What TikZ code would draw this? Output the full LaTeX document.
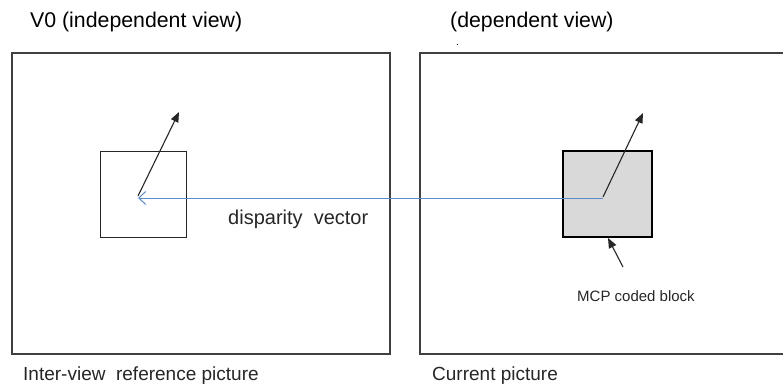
\documentclass[tikz,border=0pt]{standalone}
\usepackage{fontspec}
\setmainfont{Liberation Sans}
\usetikzlibrary{arrows.meta}
\definecolor{framegray}{HTML}{404040}
\definecolor{dvblue}{HTML}{5B8BC9}
\definecolor{blockgray}{HTML}{D9D9D9}
\begin{document}
\begin{tikzpicture}[x=1pt,y=-1pt,
  frame/.style={draw=framegray,line width=1.4pt,inner sep=0pt,minimum width=#1,minimum height=301pt},
  title/.style={anchor=base west,inner sep=0pt,font=\fontsize{21.3}{24}\selectfont},
  label/.style={anchor=base west,inner sep=0pt,font=\fontsize{19}{22}\selectfont,text=black!85},
  small/.style={anchor=base west,inner sep=0pt,font=\fontsize{15}{18}\selectfont,text=black!85},
  mv/.style={draw=black!85,line width=1.1pt,-{Triangle[length=10pt,width=8pt]}},
  dv/.style={draw=dvblue,line width=1pt,-{Straight Barb[length=7pt,width=13pt]}}]
\useasboundingbox (0,0) rectangle (783,383);
% frames
\node[frame=378pt] (lf) at (201,203.5) {};
\node[frame=380pt] (rf) at (610,203.5) {};
% titles
\node[title] (t1) at (30,27) {V0 (independent view)};
\node[title] (t2) at (450,27) {(dependent view)};
\node[anchor=base west,inner sep=0pt,font=\fontsize{10}{12}\selectfont] (dot) at (456,45) {.};
% blocks
\node[draw=black!85,line width=0.8pt,minimum width=86pt,minimum height=86pt,inner sep=0pt] (lb) at (143,194) {};
\node[draw=black,line width=1.8pt,fill=blockgray,minimum width=89pt,minimum height=86pt,inner sep=0pt] (rb) at (607.5,194) {};
% arrow coordinates
\coordinate (lc) at (138,196);
\coordinate (lt) at (179,112);
\coordinate (rc) at (603,197);
\coordinate (rt) at (643,113);
\coordinate (mcpa) at (623,267);
\coordinate (mcpb) at (608,238);
\coordinate (dvs) at (603,198);
\coordinate (dve) at (138,198);
% arrows
\draw[dv] (dvs) -- (dve);
\draw[mv] (lc) -- (lt);
\draw[mv] (rc) -- (rt);
\draw[mv] (mcpa) -- (mcpb);
% labels
\node[label,font=\fontsize{20}{22}\selectfont] (dvl) at (228,224) {disparity\ \ vector};
\node[small] (mcp) at (577,301) {MCP coded block};
\node[label] (lbl) at (23,380) {Inter-view\ \ reference picture};
\node[label] (rbl) at (432,380) {Current picture};
\end{tikzpicture}
\end{document}
